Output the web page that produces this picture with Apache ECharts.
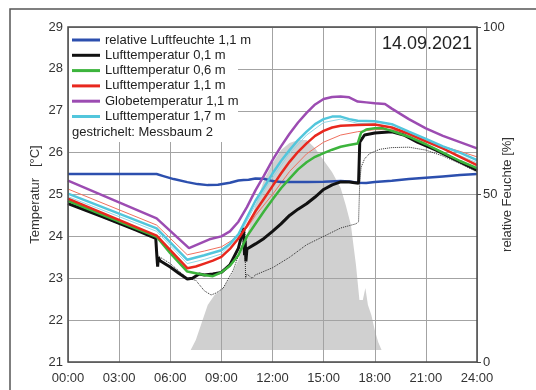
<!DOCTYPE html>
<html><head><meta charset="utf-8">
<script src="https://cdn.jsdelivr.net/npm/echarts/dist/echarts.min.js"></script>
<style>html,body{margin:0;padding:0;background:#fff}#c{width:536px;height:390px}</style>
</head><body><div id="c"></div>
<script>
// ---- data (time in hours) ----
const xTickLabels = ['00:00','03:00','06:00','09:00','12:00','15:00','18:00','21:00','24:00'];
const legendNames = ['relative Luftfeuchte 1,1 m','Lufttemperatur 0,1 m','Lufttemperatur 0,6 m','Lufttemperatur 1,1 m','Globetemperatur 1,1 m','Lufttemperatur 1,7 m'];
const noteText = 'gestrichelt: Messbaum 2';
const dateText = '14.09.2021';

// relative humidity 1.1 m [%]
const humidity11 = [[0,56.1],[2,56.1],[4,56.1],[5.2,56.1],[5.6,55.5],[6.2,54.6],[7.0,53.7],[7.6,53.1],[8.2,52.8],[8.8,52.9],[9.5,53.5],[10.0,54.2],[10.3,54.3],[10.6,54.4],[11.0,54.8],[11.5,54.7],[12.0,54.0],[12.5,53.7],[13,53.7],[14,53.7],[15,53.8],[16,54.0],[16.5,53.9],[17.0,53.5],[17.5,53.4],[18,53.7],[19,54.1],[20,54.6],[21,55.0],[22,55.4],[23,55.8],[24,56.1]];
// air temperature 0.1 m [°C]
const air01 = [[0,24.78],[1,24.63],[2,24.47],[3,24.31],[4,24.15],[5.15,23.95],[5.22,23.5],[5.26,23.28],[5.3,23.5],[5.4,23.42],[6,23.27],[6.5,23.12],[7,22.98],[7.3,23.0],[7.7,23.1],[8.0,23.08],[8.5,23.1],[9.0,23.14],[9.5,23.32],[10.0,23.72],[10.3,24.2],[10.36,23.55],[10.4,23.9],[10.44,23.4],[10.5,23.7],[11,23.82],[11.5,23.95],[12,24.12],[12.5,24.3],[13,24.5],[13.5,24.65],[14,24.78],[14.5,24.94],[15,25.12],[15.5,25.23],[16,25.3],[16.5,25.3],[17.05,25.27],[17.12,26.25],[17.4,26.42],[18,26.47],[19,26.5],[19.7,26.42],[20.5,26.25],[21.6,26.06],[23,25.78],[24,25.58]];
// air temperature 0.6 m
const air06 = [[0,24.85],[5.2,23.99],[6,23.6],[7,23.16],[7.5,23.12],[8,23.08],[8.5,23.05],[9,23.14],[9.5,23.3],[10,23.55],[10.5,24.0],[11,24.3],[11.5,24.6],[12,24.88],[12.5,25.15],[13,25.38],[13.5,25.6],[14,25.77],[14.5,25.9],[15,25.99],[15.5,26.07],[16,26.14],[16.5,26.18],[17.0,26.22],[17.2,26.48],[17.5,26.55],[18,26.58],[18.5,26.58],[19,26.52],[20,26.38],[21,26.2],[22,26.0],[23,25.8],[24,25.63]];
// air temperature 1.1 m
const air11 = [[0,24.9],[5.2,24.02],[7,23.24],[7.5,23.28],[8,23.35],[8.5,23.42],[9,23.51],[9.5,23.7],[10,23.95],[10.5,24.25],[11,24.6],[11.5,24.9],[12,25.2],[12.5,25.5],[13,25.78],[13.5,26.02],[14,26.22],[14.5,26.4],[15,26.52],[15.5,26.6],[16,26.64],[17,26.66],[18,26.67],[19,26.6],[20,26.45],[21,26.27],[22,26.1],[23,25.9],[24,25.7]];
// globe temperature 1.1 m
const globe11 = [[0,25.33],[5.2,24.43],[7.1,23.72],[8.3,23.93],[9,24.0],[9.5,24.12],[10,24.35],[10.5,24.7],[11,25.1],[11.5,25.45],[12,25.82],[12.5,26.15],[13,26.45],[13.5,26.72],[14,26.95],[14.5,27.15],[15,27.28],[15.5,27.33],[16,27.34],[16.5,27.32],[17,27.22],[17.5,27.2],[18,27.18],[18.6,27.16],[19,27.05],[20,26.8],[21,26.58],[22,26.4],[23,26.25],[24,26.1]];
// air temperature 1.7 m
const air17 = [[0,25.02],[5.2,24.19],[7,23.44],[8,23.55],[9,23.67],[9.5,23.82],[10,24.05],[10.5,24.45],[11,24.85],[11.5,25.17],[12,25.5],[12.5,25.8],[13,26.06],[13.5,26.3],[14,26.5],[14.5,26.68],[15,26.8],[15.5,26.86],[16,26.86],[16.5,26.8],[17,26.76],[18,26.75],[19,26.68],[20,26.5],[21,26.33],[22,26.15],[23,26.0],[24,25.82]];
// Messbaum 2 (thin / dashed)
const air11mb2 = [[0,25.13],[5.2,24.27],[7,23.56],[8,23.65],[9,23.75],[10,24.0],[10.5,24.2],[11,24.5],[12,25.0],[13,25.55],[14,25.97],[15,26.25],[16,26.42],[17,26.5],[18,26.55],[19,26.55],[20,26.45],[21,26.3],[22,26.15],[23,26.03],[24,25.9]];
const air17mb2 = [[0,24.95],[5.2,24.12],[7,23.35],[8,23.45],[9,23.58],[10,23.98],[11,24.75],[12,25.4],[13,25.98],[14,26.42],[15,26.72],[16,26.8],[17,26.7],[18,26.68],[19,26.6],[20,26.42],[21,26.26],[22,26.08],[23,25.93],[24,25.76]];
const air01mb2 = [[0,24.78],[5.15,23.95],[5.22,23.55],[6,23.35],[7,23.0],[7.5,22.95],[8.0,22.7],[8.4,22.6],[8.7,22.65],[9.1,22.76],[9.7,23.2],[10.26,23.83],[10.38,24.15],[10.42,23.0],[10.5,23.1],[10.8,23.0],[11,23.08],[12,23.25],[13,23.5],[14,23.8],[15,24.0],[16,24.2],[16.9,24.3],[17.05,24.35],[17.12,25.3],[17.2,25.65],[17.4,25.85],[17.7,25.98],[18.3,26.08],[19,26.12],[20,26.13],[21,26.06],[22,25.92],[23,25.74],[24,25.54]];
// global radiation (grey area, unscaled)
const radiation = [[0,0],[7.2,0],[7.5,33],[7.8,83],[8.2,150],[8.6,183],[9.0,200],[9.5,240],[10.0,300],[10.5,383],[11.0,483],[11.5,567],[12.0,623],[12.5,667],[13.0,690],[13.5,700],[14.0,700],[14.5,673],[15.0,633],[15.5,593],[16.0,540],[16.3,483],[16.6,417],[16.9,283],[17.1,167],[17.3,167],[17.45,207],[17.6,150],[17.8,117],[18.0,67],[18.2,27],[18.4,0],[24,0]];

const FONT = 'Liberation Sans, Arial, sans-serif';
const GRIDC = '#a3a3a3';
function line(name, data, color, width, opts) {
  return Object.assign({
    name: name, type: 'line', data: data, showSymbol: false, symbol: 'none',
    lineStyle: {color: color, width: width}, itemStyle: {color: color},
    z: 2, silent: true
  }, opts || {});
}

const chart = echarts.init(document.getElementById('c'), null, {renderer: 'canvas'});
chart.setOption({
  backgroundColor: '#fff',
  animation: false,
  textStyle: {fontFamily: FONT},
  grid: {left: 68, right: 59, top: 27, bottom: 28, show: true, borderColor: '#4a4a4a', borderWidth: 1.5, backgroundColor: 'transparent', z: 3},
  xAxis: {
    type: 'value', min: 0, max: 24, interval: 3, z: 1,
    axisLine: {show: false}, axisTick: {show: false},
    axisLabel: {formatter: v => xTickLabels[Math.round(v / 3)], color: '#333', fontSize: 13, margin: 10, fontFamily: FONT},
    splitLine: {show: true, lineStyle: {color: GRIDC, width: 1}}
  },
  yAxis: [
    {type: 'value', min: 21, max: 29, interval: 1, z: 1,
     name: 'Temperatur   [°C]', nameLocation: 'middle', nameGap: 26, nameRotate: 90, nameMoveOverlap: false,
     nameTextStyle: {fontSize: 13, color: '#333', fontFamily: FONT},
     axisLine: {show: false}, axisTick: {show: false},
     axisLabel: {color: '#333', fontSize: 13, margin: 5, fontFamily: FONT},
     splitLine: {show: true, lineStyle: {color: GRIDC, width: 1}}},
    {type: 'value', position: 'right', min: 0, max: 100, interval: 50, z: 1,
     name: 'relative Feuchte [%]', nameLocation: 'middle', nameGap: 24, nameRotate: 90, nameMoveOverlap: false,
     nameTextStyle: {fontSize: 13, color: '#333', fontFamily: FONT},
     axisLine: {show: false}, axisTick: {show: true, length: 4, lineStyle: {color: '#4a4a4a'}},
     axisLabel: {color: '#333', fontSize: 13, margin: 6, fontFamily: FONT},
     splitLine: {show: false}},
    {type: 'value', min: -40, max: 1077, show: false}
  ],
  legend: {
    data: legendNames, orient: 'vertical', left: 72, top: 33.5, padding: 0,
    itemWidth: 28, itemHeight: 3, icon: 'rect', itemGap: 2.3,
    textStyle: {fontSize: 13, color: '#222', lineHeight: 13, fontFamily: FONT},
    selectedMode: false, z: 5
  },
  graphic: [
    {type: 'rect', z: 1.5, shape: {x: 69, y: 28, width: 169, height: 114}, style: {fill: '#fff'}},
    {type: 'text', z: 5, x: 72, y: 132, style: {text: noteText, fontSize: 13, fontFamily: FONT, fill: '#222', verticalAlign: 'middle'}},
    {type: 'text', z: 5, x: 472, y: 44, style: {text: dateText, fontSize: 18, fontFamily: FONT, fill: '#222', align: 'right', verticalAlign: 'middle'}},
    {type: 'rect', z: 6, shape: {x: 10, y: 9, width: 700, height: 600}, style: {fill: 'none', stroke: '#555', lineWidth: 1.5}}
  ],
  series: [
    {name: 'Globalstrahlung', type: 'line', yAxisIndex: 2, data: radiation, showSymbol: false, symbol: 'none',
     lineStyle: {width: 0}, areaStyle: {color: '#d0d0d0', opacity: 1}, z: 0, silent: true},
    line('Lufttemperatur 0,1 m MB2', air01mb2, '#2a2a2a', 1, {lineStyle: {color: '#2a2a2a', width: 1, type: 'dotted'}}),
    line('Lufttemperatur 1,7 m MB2', air17mb2, '#8fd8e6', 1),
    line('Lufttemperatur 1,1 m MB2', air11mb2, '#f0705f', 1),
    line(legendNames[0], humidity11, '#2c4fae', 2.5, {yAxisIndex: 1}),
    line(legendNames[1], air01, '#111111', 3),
    line(legendNames[2], air06, '#3cb43c', 2.5),
    line(legendNames[3], air11, '#e8281e', 2.5),
    line(legendNames[4], globe11, '#9c4cb2', 2.5),
    line(legendNames[5], air17, '#52c6dc', 2.5)
  ]
});
</script>
</body></html>
